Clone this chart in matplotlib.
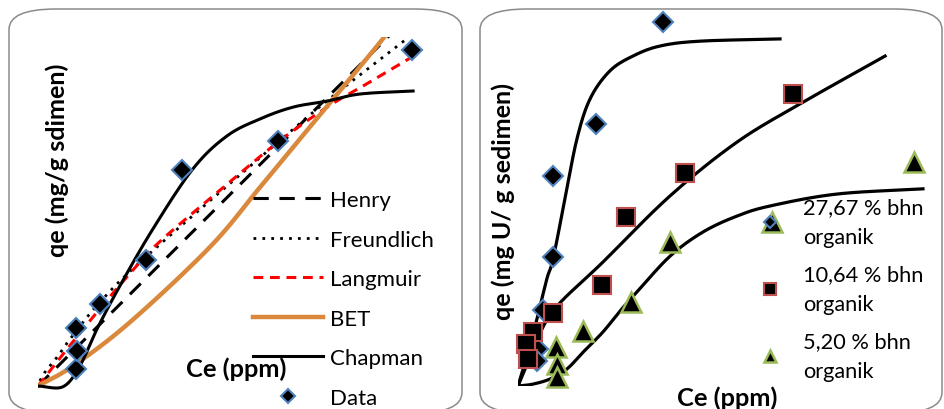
import matplotlib
matplotlib.use("Agg")
import matplotlib.pyplot as plt
import numpy as np
from matplotlib.patches import FancyBboxPatch

plt.rcParams['font.family'] = ['Lato', 'DejaVu Sans']

W, H = 944, 410

# ---- left panel: isotherm fits (Ce in ppm, qe in mg/g) ----
data_ce = [1.02, 1.04, 1.02, 1.66, 2.89, 3.85, 6.42, 10.0]
data_qe = [0.51, 1.04, 1.73, 2.44, 3.75, 6.43, 7.29, 10.0]

henry_ce = [0.0, 9.45]
henry_qe = [0.0, 10.49]

freund_ce = [0.05, 0.19, 0.51, 0.86, 1.66, 2.91, 6.42, 7.89, 9.89]
freund_qe = [0.15, 0.42, 0.86, 1.40, 2.50, 3.87, 7.26, 8.63, 10.36]

lang_ce = [0.0, 0.67, 1.58, 2.46, 3.26, 5.05, 6.42, 7.73, 8.80, 9.95]
lang_qe = [0.0, 0.95, 2.20, 3.35, 4.30, 6.00, 7.26, 8.30, 9.00, 9.76]

bet_ce = [0.0, 0.94, 2.46, 4.60, 5.94, 7.27, 8.80, 9.45]
bet_qe = [0.0, 0.60, 1.90, 4.14, 5.92, 7.71, 9.76, 10.65]

chap_ce = [0.0, 0.67, 1.12, 1.58, 2.19, 3.07, 4.14, 5.05, 5.94, 6.82, 7.73, 8.61, 10.03]
chap_qe = [0.0, -0.02, 0.60, 1.70, 2.98, 4.67, 6.46, 7.44, 7.95, 8.30, 8.48, 8.69, 8.78]

# ---- right panel: three organic contents ----
d27_ce = [3.52, 1.89, 0.85, 0.85, 0.61, 0.49, 0.46]
d27_qe = [9.78, 7.04, 5.65, 3.47, 2.04, 0.99, 0.67]
d10_ce = [6.67, 4.05, 2.62, 2.04, 0.85, 0.36, 0.19, 0.24]
d10_qe = [7.85, 5.73, 4.54, 2.72, 1.96, 1.45, 1.13, 0.73]
d5_ce = [9.61, 6.17, 3.69, 2.74, 1.58, 0.92, 0.94, 0.94]
d5_qe = [6.02, 4.41, 3.87, 2.26, 1.48, 1.05, 0.59, 0.24]

fit27_ce = [0.0, 0.05, 0.22, 0.46, 0.70, 0.85, 1.14, 1.43, 1.75, 2.23, 2.79, 3.45, 4.42, 6.36]
fit27_qe = [0.0, 0.19, 0.81, 1.80, 2.88, 3.41, 5.03, 6.64, 7.72, 8.47, 8.87, 9.14, 9.27, 9.33]
fit10_ce = [0.0, 0.15, 0.36, 0.85, 2.06, 3.69, 5.32, 6.92, 8.91]
fit10_qe = [0.0, 0.40, 0.94, 2.02, 3.33, 5.11, 6.56, 7.63, 8.87]
fit5_ce = [0.0, 0.36, 0.78, 1.19, 1.58, 2.06, 2.48, 2.89, 3.69, 4.49, 5.32, 6.12, 7.74, 9.83]
fit5_qe = [0.0, 0.05, 0.19, 0.46, 0.91, 1.45, 2.02, 2.53, 3.49, 4.14, 4.57, 4.84, 5.16, 5.30]


def smooth(xs, ys, n=16):
    # catmull-rom through the points, like excel's "smoothed line"
    pts = np.column_stack([xs, ys]).astype(float)
    if len(pts) < 3:
        return pts[:, 0], pts[:, 1]
    p = np.vstack([2 * pts[0] - pts[1], pts, 2 * pts[-1] - pts[-2]])
    t = np.linspace(0, 1, n, endpoint=False)[:, None]
    out = []
    for i in range(1, len(p) - 2):
        p0, p1, p2, p3 = p[i - 1], p[i], p[i + 1], p[i + 2]
        out.append(0.5 * (2 * p1 + (p2 - p0) * t
                          + (2 * p0 - 5 * p1 + 4 * p2 - p3) * t ** 2
                          + (3 * p1 - p0 - 3 * p2 + p3) * t ** 3))
    out.append(pts[-1:])
    res = np.vstack(out)
    return res[:, 0], res[:, 1]


def px_box(x0, y0, x1, y1):
    return [x0 / W, 1 - y1 / H, (x1 - x0) / W, (y1 - y0) / H]


def fit_label(txt, target_px, vertical):
    # scale a label so its length matches the original picture
    r = fig.canvas.get_renderer()
    bb = txt.get_window_extent(r)
    cur = bb.height if vertical else bb.width
    txt.set_fontsize(txt.get_fontsize() * target_px / cur)


fig = plt.figure(figsize=(W / 100, H / 100), dpi=100)

# panel frames
for x0, x1 in [(9, 462), (480, 942)]:
    fig.patches.append(FancyBboxPatch(
        (x0 / W, 1 - 414 / H), (x1 - x0) / W, (414 - 10) / H,
        boxstyle="round,pad=0,rounding_size=0.05", transform=fig.transFigure,
        facecolor="none", edgecolor="#8a8a8a", linewidth=1.1, zorder=-1))

# left chart
ax1 = fig.add_axes(px_box(38, 38, 438, 392))
ax1.plot(henry_ce, henry_qe, color="black", lw=2.2, dashes=(5, 3.5), label="Henry")
ax1.plot(*smooth(freund_ce, freund_qe), color="black", lw=2.0, ls=(0, (1, 2.2)),
         label="Freundlich")
ax1.plot(*smooth(lang_ce, lang_qe), color="#ff0000", lw=2.2, dashes=(3.2, 2.2),
         label="Langmuir")
ax1.plot(*smooth(bet_ce, bet_qe), color="#d9883c", lw=3.2, label="BET")
ax1.plot(*smooth(chap_ce, chap_qe), color="black", lw=2.2, label="Chapman")
ax1.plot(data_ce, data_qe, ls="none", marker="D", ms=10.5, mfc="black",
         mec="#4f81bd", mew=1.5, label="Data", zorder=5, clip_on=False)
ax1.set_xlim(0, 400 / 37.4)
ax1.set_ylim(-5 / 33.6, 349 / 33.6)
ax1.axis("off")
leg1 = ax1.legend(loc="upper left", bbox_to_anchor=(253 / W, 1 - 191 / H),
                  bbox_transform=fig.transFigure, frameon=False, fontsize=16,
                  handlelength=3.15, handletextpad=0.3, labelspacing=0.88,
                  markerscale=0.65, borderpad=0, borderaxespad=0)

ylab1 = fig.text(57 / W, 1 - 160 / H, "qe (mg/g sdimen)", rotation=90, fontsize=18,
                 fontweight="bold", ha="center", va="center")
xlab1 = fig.text(236 / W, 1 - 369 / H, "Ce (ppm)", fontsize=17.5, fontweight="bold",
                 ha="center", va="center")

# right chart
ax2 = fig.add_axes(px_box(518, 15, 930, 387))
for cx, cy in [(fit27_ce, fit27_qe), (fit10_ce, fit10_qe), (fit5_ce, fit5_qe)]:
    ax2.plot(*smooth(cx, cy), color="black", lw=2.3)
ax2.plot(d27_ce, d27_qe, ls="none", marker="D", ms=10, mfc="black",
         mec="#4f81bd", mew=1.5, label="27,67 % bhn\norganik", zorder=5, clip_on=False)
ax2.plot(d10_ce, d10_qe, ls="none", marker="s", ms=12.5, mfc="black",
         mec="#c0504d", mew=1.5, label="10,64 % bhn\norganik", zorder=6, clip_on=False)
ax2.plot(d5_ce, d5_qe, ls="none", marker="^", ms=14, mfc="black",
         mec="#9bbb59", mew=1.8, label="5,20 % bhn\norganik", zorder=4, clip_on=False)
ax2.set_xlim(0, 10)
ax2.set_ylim(0, 10)
ax2.axis("off")
leg2 = ax2.legend(loc="upper left", bbox_to_anchor=(757 / W, 1 - 198 / H),
                  bbox_transform=fig.transFigure, frameon=False, fontsize=15.7,
                  handlelength=1.2, handletextpad=0.92, labelspacing=0.8,
                  markerscale=0.65, borderpad=0, borderaxespad=0)
for t in leg2.get_texts():
    t.set_linespacing(1.6)

ylab2 = fig.text(503 / W, 1 - 202 / H, "qe (mg U/ g sedimen)", rotation=90, fontsize=18,
                 fontweight="bold", ha="center", va="center")
xlab2 = fig.text(727 / W, 1 - 398 / H, "Ce (ppm)", fontsize=17.5, fontweight="bold",
                 ha="center", va="center")

fit_label(ylab1, 194, True)
fit_label(ylab2, 237, True)
fit_label(xlab1, 100, False)
fit_label(xlab2, 100, False)

fig.savefig("out.png", dpi=100)
